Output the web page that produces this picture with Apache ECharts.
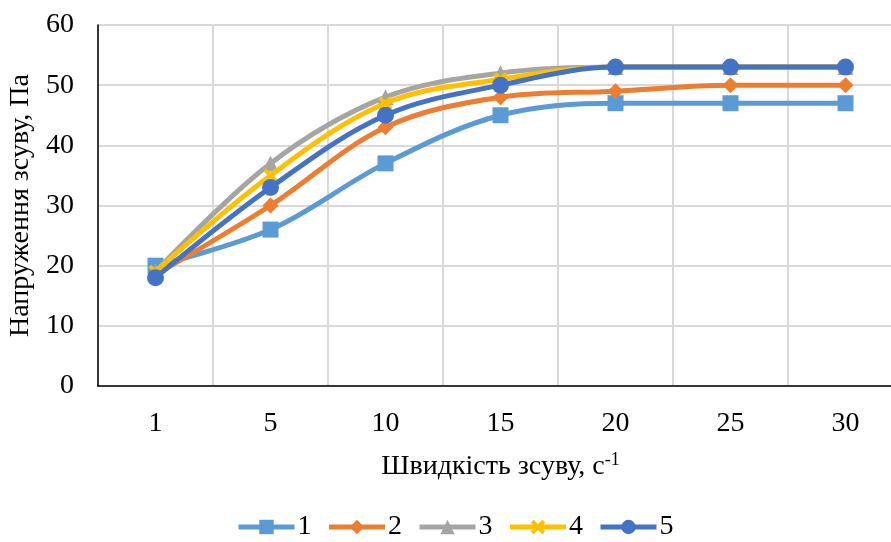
<!DOCTYPE html>
<html><head><meta charset="utf-8">
<script src="https://cdn.jsdelivr.net/npm/echarts@6/dist/echarts.min.js"></script>
<style>html,body{margin:0;padding:0;background:#fff}#c{width:891px;height:542px}</style>
</head><body><div id="c"></div>
<script>
const categories = ['1','5','10','15','20','25','30'];
const s1 = [20, 26, 37, 45, 47, 47, 47];
const s2 = [18.5, 30, 43, 48, 49, 50, 50];
const s3 = [19, 37, 48, 52, 53, 53, 53];
const s4 = [19, 35, 47, 51, 53, 53, 53];
const s5 = [18, 33, 45, 50, 53, 53, 53];
const names = ['1','2','3','4','5'];
const yTicks = [0, 10, 20, 30, 40, 50, 60];

const FONT = '"Liberation Serif", "Times New Roman", serif';
const FS = 28;
const colors = ['#5B9BD5','#ED7D31','#A5A5A5','#FFC000','#4472C4'];
const xPath = 'path://M2,0L5,3L8,0L10,2L7,5L10,8L8,10L5,7L2,10L0,8L3,5L0,2Z';
const symbols = ['rect','diamond','triangle', xPath,'circle'];
const sizes = [16,16,16,14,17];
const data = [s1,s2,s3,s4,s5];

const chart = echarts.init(document.getElementById('c'));
chart.setOption({
  animation:false,
  color: colors,
  grid:{left:98, right:-12, top:25, bottom:156, containLabel:false, outerBoundsMode:'none'},
  legend:{
    bottom:-4, left:231, itemWidth:56, itemHeight:18, itemGap:15,
    textStyle:{fontFamily:FONT, fontSize:FS, color:'#000', padding:[0,0,0,-2]},
    lineStyle:{width:5},
    data: names
  },
  xAxis:{
    type:'category', data:categories, boundaryGap:true,
    name:'Швидкість зсуву, с{sup|-1}', nameLocation:'middle', nameGap:65,
    nameTextStyle:{fontFamily:FONT, fontSize:FS, color:'#000',
      rich:{sup:{fontFamily:FONT, fontSize:18, color:'#000', verticalAlign:'top', padding:[0,0,14,0]}}},
    axisLine:{lineStyle:{color:'#000', width:1.5}},
    axisTick:{show:false},
    axisLabel:{fontFamily:FONT, fontSize:FS, color:'#000', margin:24},
    splitLine:{show:true, lineStyle:{color:'#D9D9D9', width:2}}
  },
  yAxis:{
    type:'value', min:yTicks[0], max:yTicks[yTicks.length-1], interval:10,
    name:'Напруження зсуву, Па', nameLocation:'middle', nameGap:60, nameRotate:90,
    nameTextStyle:{fontFamily:FONT, fontSize:FS, color:'#000'},
    axisLine:{show:true, lineStyle:{color:'#000', width:1.5}},
    axisTick:{show:false},
    axisLabel:{fontFamily:FONT, fontSize:FS, color:'#000', margin:24},
    splitLine:{lineStyle:{color:'#D9D9D9', width:2}}
  },
  series: names.map((n,i)=>({
    name:n, type:'line', data:data[i], smooth:0.35,
    symbol:symbols[i], symbolSize:sizes[i], showSymbol:true,
    lineStyle:{width:5, color:colors[i]},
    itemStyle:{color:colors[i]},
    z: 2+i
  }))
});
</script></body></html>
